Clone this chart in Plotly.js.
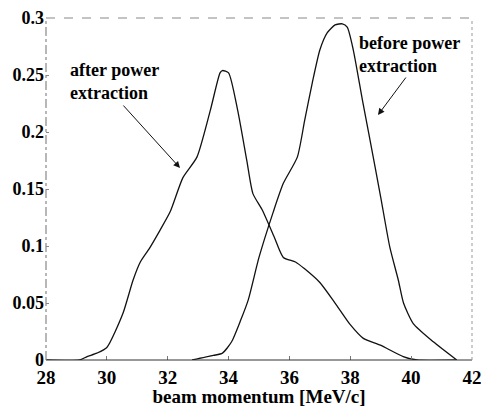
<!DOCTYPE html>
<html><head><meta charset="utf-8">
<script src="https://cdn.plot.ly/plotly-3.0.1.min.js"></script>
<style>html,body{margin:0;padding:0;background:#fff;}#chart{width:481px;height:407px;}</style>
</head><body><div id="chart"></div>
<script>
// after power extraction
const afterX = [28.0, 29.1, 29.35, 29.67, 30.0, 30.53, 30.86, 31.1, 31.4, 31.75, 32.08, 32.5, 32.96, 33.4, 33.72, 33.8, 34.0, 34.3, 34.6, 34.8, 35.1, 35.5, 35.8, 36.2, 36.5, 37.0, 37.5, 38.0, 38.43, 38.99, 39.74, 40.2, 41.5];
const afterY = [0.0, 0.0, 0.003, 0.006, 0.011, 0.041, 0.07, 0.086, 0.098, 0.114, 0.13, 0.16, 0.178, 0.219, 0.252, 0.254, 0.252, 0.219, 0.175, 0.146, 0.132, 0.108, 0.09, 0.086, 0.08, 0.068, 0.05, 0.031, 0.019, 0.013, 0.003, 0.0, 0.0];
// before power extraction
const beforeX = [32.8, 33.5, 33.8, 34.1, 34.4, 34.65, 35.0, 35.47, 35.8, 36.26, 36.5, 36.75, 37.0, 37.24, 37.5, 37.74, 37.9, 38.1, 38.4, 38.6, 39.0, 39.3, 39.58, 39.75, 40.07, 40.73, 41.5];
const beforeY = [0.0, 0.004, 0.006, 0.016, 0.035, 0.053, 0.09, 0.13, 0.155, 0.178, 0.21, 0.243, 0.272, 0.287, 0.294, 0.295, 0.292, 0.272, 0.228, 0.2, 0.143, 0.099, 0.07, 0.05, 0.032, 0.016, 0.0];
const xTicks = [28, 30, 32, 34, 36, 38, 40, 42];
const xTickText = ["28", "30", "32", "34", "36", "38", "40", "42"];
const yTicks = [0, 0.05, 0.1, 0.15, 0.2, 0.25, 0.3];
const yTickText = ["0", "0.05", "0.1", "0.15", "0.2", "0.25", "0.3"];

const FONT = "Liberation Serif, serif";
const line = {color: "#111", width: 1.3, shape: "spline", smoothing: 0.6};
const traces = [
  {x: afterX, y: afterY, mode: "lines", line: line, hoverinfo: "skip", showlegend: false},
  {x: beforeX, y: beforeY, mode: "lines", line: line, hoverinfo: "skip", showlegend: false}
];
const layout = {
  width: 481, height: 407,
  margin: {l: 46, r: 9, t: 18, b: 47},
  paper_bgcolor: "#fff", plot_bgcolor: "#fff",
  font: {family: FONT, color: "#111", weight: 700},
  showlegend: false,
  xaxis: {
    range: [28, 42.001], tickvals: xTicks, ticktext: xTickText, showgrid: false, zeroline: false,
    ticks: "inside", ticklen: 4, tickcolor: "#777", showline: false, ticklabelstandoff: 4,
    ticklabeloverflow: "allow",
    tickfont: {family: FONT, size: 19, color: "#000", weight: 700},
    title: {text: "beam momentum [MeV/c]", font: {family: FONT, size: 19, color: "#000", weight: 700}, standoff: 2}
  },
  yaxis: {
    range: [0, 0.3001], tickvals: yTicks, ticktext: yTickText, showgrid: false, zeroline: false,
    ticks: "inside", ticklen: 3, tickcolor: "#888", showline: false, ticklabelstandoff: 1,
    ticklabeloverflow: "allow",
    tickfont: {family: FONT, size: 18, color: "#000", weight: 700}
  },
  shapes: [
    {type: "line", xref: "paper", yref: "paper", x0: 0, x1: 1, y0: 0, y1: 0, line: {color: "#333", width: 1.2}},
    {type: "line", xref: "paper", yref: "paper", x0: 0, x1: 1, y0: 1, y1: 1, line: {color: "#888", width: 1, dash: "dash"}},
    {type: "line", xref: "paper", yref: "paper", x0: 1, x1: 1, y0: 0, y1: 1, line: {color: "#999", width: 1, dash: "dot"}},
    {type: "line", xref: "paper", yref: "paper", x0: 0, x1: 0, y0: 0, y1: 1, line: {color: "#888", width: 1.2, dash: "dashdot"}}
  ],
  annotations: [
    {xref: "paper", yref: "paper", x: (68-46)/426, y: (360-58)/342, xanchor: "left", yanchor: "top", align: "left", showarrow: false,
     text: "after power<br>extraction", font: {family: FONT, size: 18, color: "#000", weight: 700}},
    {xref: "paper", yref: "paper", x: (357-46)/426, y: (360-31)/342, xanchor: "left", yanchor: "top", align: "left", showarrow: false,
     text: "before power<br>extraction", font: {family: FONT, size: 18, color: "#000", weight: 700}},
    {xref: "paper", yref: "paper", x: (180-46)/426, y: (360-168)/342, ax: -58, ay: -64,
     showarrow: true, arrowhead: 2, arrowsize: 1.3, arrowwidth: 1, arrowcolor: "#111", text: ""},
    {xref: "paper", yref: "paper", x: (378-46)/426, y: (360-115)/342, ax: 29, ay: -39,
     showarrow: true, arrowhead: 2, arrowsize: 1.3, arrowwidth: 1, arrowcolor: "#111", text: ""}
  ]
};
Plotly.newPlot("chart", traces, layout, {staticPlot: true, displayModeBar: false});
</script>
</body></html>
